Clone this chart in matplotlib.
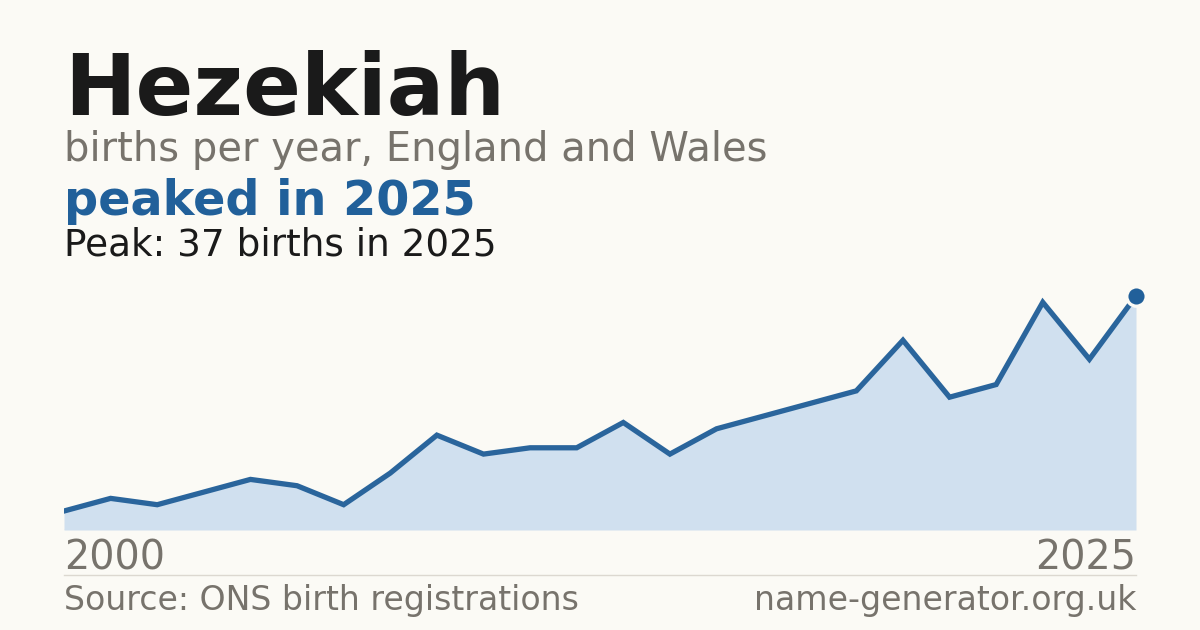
import matplotlib
matplotlib.use("Agg")
import matplotlib.pyplot as plt
import numpy as np

first_year = 2000
last_year = 2025
births = [3, 5, 4, 6, 8, 7, 4, 9, 15, 12, 13, 13, 17, 12, 16, 18, 20, 22,
          30, 21, 23, 36, 27, 37]

name = "Hezekiah"
subtitle = "births per year, England and Wales"
headline = "peaked in 2025"
peak_note = "Peak: 37 births in 2025"
source = "Source: ONS birth registrations"
site = "name-generator.org.uk"

bg = "#fbfaf5"
blue = "#21609a"
line_blue = "#2a659c"
fill = "#d0e0ef"
grey = "#77736c"
dark = "#1a1a1a"

W, H = 1200, 630
fig = plt.figure(figsize=(W / 100, H / 100), dpi=100, facecolor=bg)

# axes box in pixels: left 64, right 1136, bottom 530, top 280
ax = fig.add_axes([64 / W, 1 - 530 / H, (1136 - 64) / W, (530 - 280) / H])
ax.set_facecolor(bg)
x = np.arange(len(births))
ax.fill_between(x, births, 0, color=fill, lw=0, zorder=1)
ax.plot(x, births, color=line_blue, lw=3.8, solid_joinstyle="miter", zorder=2)
ax.plot(x[-1], births[-1], "o", ms=14, color=blue, mec=bg, mew=2.4,
        zorder=3, clip_on=False)
ax.axhline(0, color="#e8e0d0", lw=1, zorder=0)
ax.set_xlim(0, len(births) - 1)
ax.set_ylim(0, max(births) * 250 / 234)
ax.axis("off")

def fy(py):
    return 1 - py / H

fig.text(64 / W, fy(115), name, fontsize=61.5, fontweight="bold", color=dark,
         va="baseline", ha="left")
fig.text(64 / W, fy(161), subtitle, fontsize=28.8, color=grey,
         va="baseline", ha="left")
fig.text(64 / W, fy(215), headline, fontsize=34.4, fontweight="bold",
         color=blue, va="baseline", ha="left")
fig.text(64 / W, fy(255), peak_note, fontsize=26.9, color=dark,
         va="baseline", ha="left")

fig.text(64 / W, fy(570), str(first_year), fontsize=28.5, color=grey,
         va="baseline", ha="left")
fig.text(1136 / W, fy(570), str(last_year), fontsize=28.5, color=grey,
         va="baseline", ha="right")

fig.add_artist(plt.Line2D([64 / W, 1136 / W], [fy(574.5), fy(574.5)],
                          color="#dcd8d0", lw=1))

fig.text(64 / W, fy(610), source, fontsize=23.9, color=grey,
         va="baseline", ha="left")
fig.text(1136 / W, fy(610), site, fontsize=23.9, color=grey,
         va="baseline", ha="right")

fig.savefig("out.png", dpi=100, facecolor=bg)
